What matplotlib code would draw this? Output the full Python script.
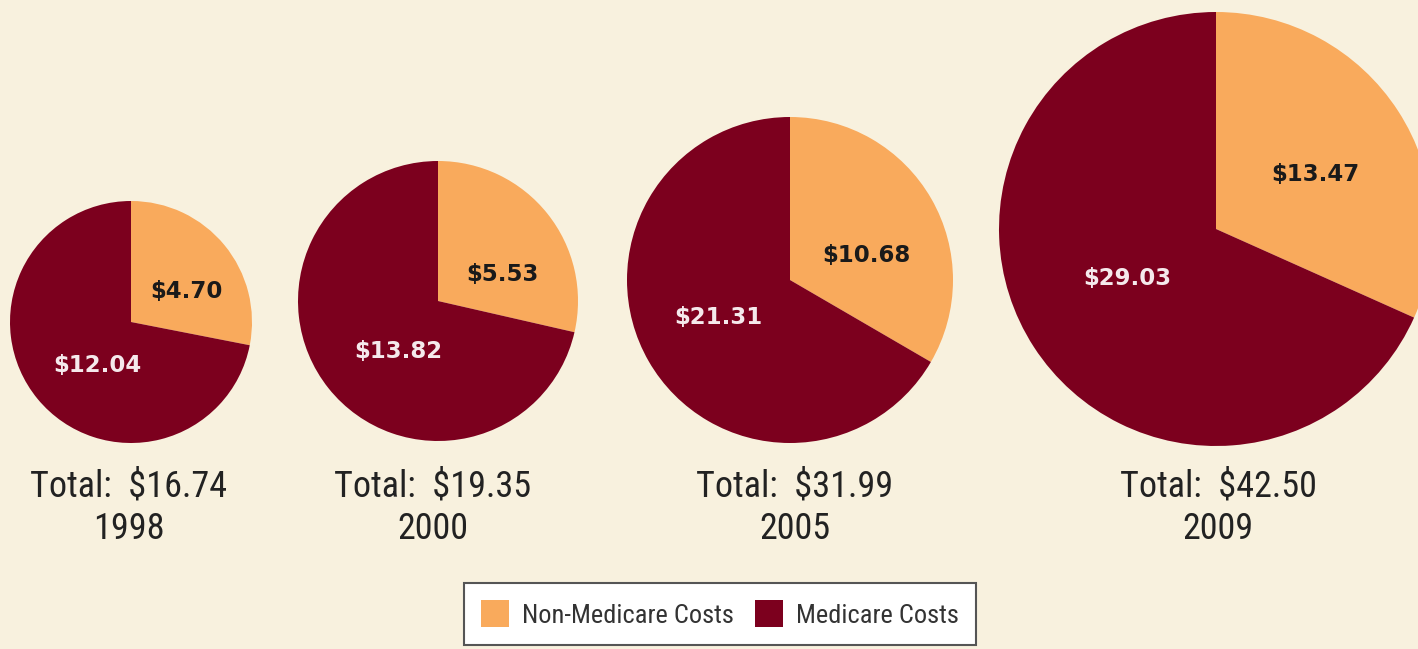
import matplotlib.pyplot as plt
from matplotlib.font_manager import FontProperties

# data
years = ["1998", "2000", "2005", "2009"]
non_medicare = [4.70, 5.53, 10.68, 13.47]
medicare = [12.04, 13.82, 21.31, 29.03]
totals = [16.74, 19.35, 31.99, 42.50]
legend_labels = ["Non-Medicare Costs", "Medicare Costs"]

# layout (pixels, y measured from top)
W, H = 1418, 649
centers = [(131, 322), (438, 301), (790, 280), (1216, 229)]
radii = [121, 140, 163, 217]
text_x = [129, 433, 795, 1218]
# label offsets as fraction of radius (dx, dy down)
off_non = [(0.46, -0.25), (0.46, -0.19), (0.47, -0.15), (0.46, -0.25)]
off_med = [(-0.28, 0.36), (-0.28, 0.36), (-0.44, 0.23), (-0.41, 0.23)]

bg = '#f8f1de'
orange = '#f9aa5c'
maroon = '#7c001e'

narrow = ['Roboto Condensed', 'Archivo Narrow', 'DejaVu Sans']

fig = plt.figure(figsize=(W / 100, H / 100), dpi=100, facecolor=bg)
ax = fig.add_axes([0, 0, 1, 1])
ax.set_facecolor(bg)

wedges_first = None
for i in range(len(years)):
    cx, cy = centers[i]
    r = radii[i]
    wedges, _ = ax.pie([non_medicare[i], medicare[i]], colors=[orange, maroon],
                       startangle=90, counterclock=False, radius=r,
                       center=(cx, H - cy), wedgeprops=dict(linewidth=0))
    if wedges_first is None:
        wedges_first = wedges

    dx, dy = off_non[i]
    ax.text(cx + dx * r, H - (cy + dy * r), "\\$%.2f" % non_medicare[i],
            ha='center', va='center', fontsize=16.5, fontweight='bold',
            color='#1a1a1a', family='DejaVu Sans')
    dx, dy = off_med[i]
    ax.text(cx + dx * r, H - (cy + dy * r), "\\$%.2f" % medicare[i],
            ha='center', va='center', fontsize=16.5, fontweight='bold',
            color='#f5e9ec', family='DejaVu Sans')

    ax.text(text_x[i], H - 497, "Total:  \\$%.2f" % totals[i], ha='center',
            va='baseline', fontsize=26, color='#222222', family=narrow)
    ax.text(text_x[i], H - 539, years[i], ha='center', va='baseline',
            fontsize=26, color='#222222', family=narrow)

ax.set_xlim(0, W)
ax.set_ylim(0, H)
ax.set_aspect('equal')
ax.set_axis_off()

leg = ax.legend(wedges_first, legend_labels, loc='center',
                bbox_to_anchor=(720, H - 614), bbox_transform=ax.transData,
                ncol=2, frameon=True, fancybox=False, edgecolor='#555555',
                facecolor='white', framealpha=1,
                prop=FontProperties(family=narrow, size=19),
                handlelength=1.05, handleheight=1.15, columnspacing=0.8,
                handletextpad=0.5, borderpad=0.65)
leg.get_frame().set_linewidth(1.5)
for t in leg.get_texts():
    t.set_color('#333333')

fig.savefig('out.png', dpi=100, facecolor=bg)
